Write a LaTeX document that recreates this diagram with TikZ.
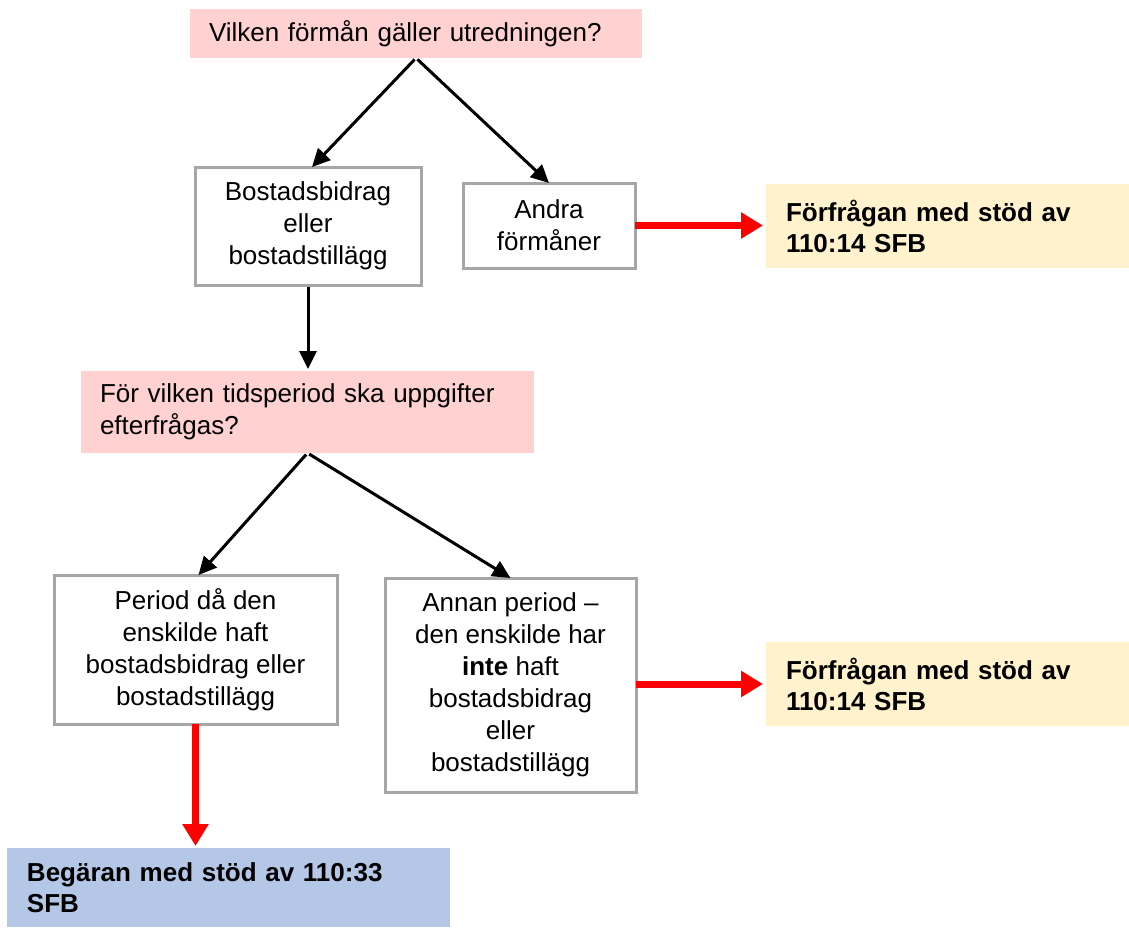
\documentclass[tikz,border=0pt]{standalone}
\usepackage{fontspec}
\setmainfont{Liberation Sans}
\usetikzlibrary{arrows.meta,calc,shadows}
\definecolor{qpink}{RGB}{255,209,209}
\definecolor{ayellow}{RGB}{255,242,204}
\definecolor{ablue}{RGB}{180,199,231}
\definecolor{bgray}{RGB}{166,166,166}
\begin{document}
\begin{tikzpicture}[x=1pt,y=-1pt,
  every node/.style={font=\fontsize{26}{32}\selectfont, inner sep=0pt, outer sep=0pt},
  question/.style={fill=qpink, align=left},
  optbox/.style={draw=bgray, line width=3pt, fill=white, align=center,
    drop shadow={shadow xshift=1.5pt, shadow yshift=-1.5pt, fill=black!40, opacity=0.5}},
  answer/.style={align=left, font=\fontsize{26}{31}\selectfont\bfseries},
  flow/.style={line width=3pt, -{Triangle[length=18pt,width=17pt]}},
  redflow/.style={line width=7pt, red, -{Triangle[length=22pt,width=25pt]}}
]
\useasboundingbox (0,0) rectangle (1129,927);

\node[question, minimum width=452pt, minimum height=49pt, text width=414pt] (q1) at (416,33.5)
  {Vilken förmån gäller utredningen?};
\node[optbox, minimum width=226pt, minimum height=118pt] (b1) at (308,226)
  {Bostadsbidrag\\eller\\bostadstillägg};
\node[optbox, minimum width=172pt, minimum height=85pt] (b2) at (549,225.5)
  {Andra\\förmåner};
\node[answer, fill=ayellow, minimum width=363pt, minimum height=84pt, text width=323pt] (y1) at (947.5,226)
  {Förfrågan med stöd av\\110:14 SFB};

\node[question, minimum width=453pt, minimum height=82pt, text width=415pt] (q2) at (307.5,412)
  {För vilken tidsperiod ska uppgifter\\efterfrågas?};

\node[optbox, minimum width=283pt, minimum height=149pt] (b3) at (195.5,649.5)
  {Period då den\\enskilde haft\\bostadsbidrag eller\\bostadstillägg};
\node[optbox, minimum width=251pt, minimum height=214pt] (b4) at (510.5,685)
  {Annan period –\\den enskilde har\\\textbf{inte} haft\\bostadsbidrag\\eller\\bostadstillägg};
\node[answer, fill=ayellow, minimum width=363pt, minimum height=84pt, text width=323pt] (y2) at (947.5,684)
  {Förfrågan med stöd av\\110:14 SFB};

\node[answer, fill=ablue, minimum width=443pt, minimum height=79pt, text width=403pt] (bl) at (228.5,887.5)
  {Begäran med stöd av 110:33\\SFB};

\draw[flow, shorten <=2pt] (q1.south) -- ($(b1.north)+(4,0)$);
\draw[flow, shorten <=2pt] (q1.south) -- (b2.north);
\draw[flow, shorten <=2pt, shorten >=2pt] (b1.south) -- (b1.south |- q2.north);
\draw[flow, shorten <=2pt] (q2.south) -- ($(b3.north)+(3,0)$);
\draw[flow, shorten <=2pt] (q2.south) -- (b4.north);

\draw[redflow, shorten >=3pt] (b2.east) -- (b2.east -| y1.west);
\draw[redflow, shorten >=3pt] (b4.east |- y2.west) -- (y2.west);
\draw[redflow, shorten >=2pt] (b3.south) -- (b3.south |- bl.north);
\end{tikzpicture}
\end{document}
